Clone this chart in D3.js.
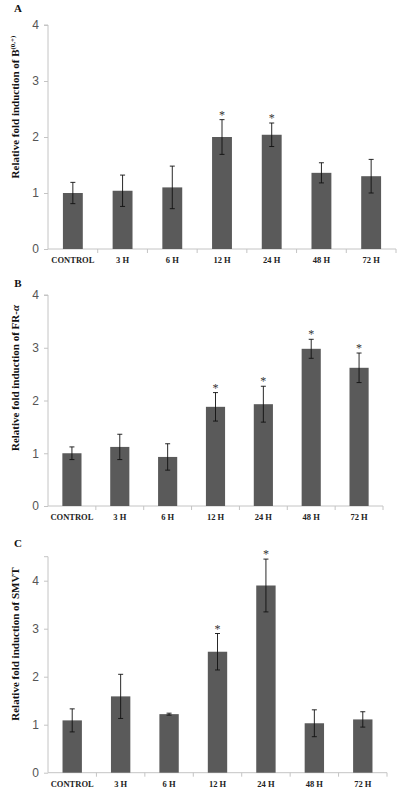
<!DOCTYPE html>
<html>
<head>
<meta charset="utf-8">
<script src="https://d3js.org/d3.v7.min.js"></script>
<style>
html,body{margin:0;padding:0;background:#fff;}
svg{display:block;}
</style>
</head>
<body>
<script>
const categories = ["CONTROL","3 H","6 H","12 H","24 H","48 H","72 H"];

const valuesA = [1.00,1.04,1.10,2.00,2.04,1.36,1.30];
const errA    = [0.19,0.28,0.38,0.31,0.21,0.18,0.30];
const sigA    = [0,0,0,1,1,0,0];

const valuesB = [1.00,1.12,0.93,1.88,1.93,2.98,2.62];
const errB    = [0.12,0.24,0.25,0.27,0.34,0.18,0.28];
const sigB    = [0,0,0,1,1,1,1];

const valuesC = [1.09,1.59,1.22,2.52,3.90,1.03,1.11];
const errC    = [0.24,0.46,0.02,0.38,0.55,0.28,0.16];
const sigC    = [0,0,0,1,1,0,0];

const yTicks = [0,1,2,3,4];

const svg = d3.select("body").append("svg").attr("width",400).attr("height",793);

const serif = "'Liberation Serif','Times New Roman',serif";
const sans = "'Liberation Sans',Arial,sans-serif";

function panel(cfg){
  const g = svg.append("g");
  const x = d3.scaleBand().domain(categories).range([cfg.x0,cfg.x1]).padding(0);
  const y = d3.scaleLinear().domain([0,cfg.ymax]).range([cfg.yb,cfg.yt]);
  const bw = x.bandwidth()*0.4;

  const ya = d3.axisLeft(y).tickValues(yTicks).tickSize(4).tickFormat(d3.format("d"));
  const yg = g.append("g").attr("transform",`translate(${cfg.x0},0)`).call(ya);
  yg.select(".domain").attr("stroke","#c4c4c4").attr("d",`M-4,${cfg.yt}H0V${cfg.yb}`);
  yg.selectAll(".tick line").attr("stroke","#c4c4c4");
  yg.selectAll(".tick text").attr("font-family",sans).attr("font-size",12).attr("fill","#555").attr("x",-9);

  g.append("line").attr("x1",cfg.x0).attr("x2",cfg.x1).attr("y1",cfg.yb).attr("y2",cfg.yb).attr("stroke","#c4c4c4");
  g.selectAll(".xt").data(categories).enter().append("line")
    .attr("x1",d=>x(d)+x.bandwidth()).attr("x2",d=>x(d)+x.bandwidth())
    .attr("y1",cfg.yb).attr("y2",cfg.yb+4).attr("stroke","#c4c4c4");
  g.selectAll(".xl").data(categories).enter().append("text")
    .attr("x",d=>x(d)+x.bandwidth()/2).attr("y",cfg.yb+14)
    .attr("text-anchor","middle").attr("font-family",serif).attr("font-weight","bold")
    .attr("font-size",8.5).attr("fill","#222").text(d=>d);

  const data = categories.map((c,i)=>({c,v:cfg.vals[i],e:cfg.errs[i],s:cfg.sig[i]}));
  g.selectAll(".bar").data(data).enter().append("rect")
    .attr("x",d=>x(d.c)+x.bandwidth()/2-bw/2).attr("width",bw)
    .attr("y",d=>y(d.v)).attr("height",d=>cfg.yb-y(d.v)).attr("fill","#5a5a5a");
  const eb = g.selectAll(".eb").data(data).enter().append("g")
    .attr("transform",d=>`translate(${x(d.c)+x.bandwidth()/2},0)`);
  eb.append("line").attr("y1",d=>y(d.v+d.e)).attr("y2",d=>y(d.v-d.e)).attr("stroke","#111").attr("stroke-width",0.9);
  eb.append("line").attr("x1",-2.5).attr("x2",2.5).attr("y1",d=>y(d.v+d.e)).attr("y2",d=>y(d.v+d.e)).attr("stroke","#111").attr("stroke-width",0.9);
  eb.append("line").attr("x1",-2.5).attr("x2",2.5).attr("y1",d=>y(d.v-d.e)).attr("y2",d=>y(d.v-d.e)).attr("stroke","#111").attr("stroke-width",0.9);
  g.selectAll(".ast").data(data.filter(d=>d.s)).enter().append("text")
    .attr("x",d=>x(d.c)+x.bandwidth()/2).attr("y",d=>y(d.v+d.e)-1)
    .attr("text-anchor","middle").attr("font-family",serif).attr("font-size",12).attr("fill","#333").text("*");

  g.append("text").attr("x",18).attr("y",cfg.letterY).attr("text-anchor","middle")
    .attr("font-family",serif).attr("font-weight","bold").attr("font-size",11).attr("fill","#111").text(cfg.letter);

  const t = g.append("text").attr("transform",`translate(19,${cfg.titleY}) rotate(-90)`)
    .attr("text-anchor","middle").attr("font-family",serif).attr("font-weight","bold")
    .attr("font-size",11).attr("fill","#111");
  cfg.title(t);
}

panel({x0:48,x1:396,yb:249,yt:25,ymax:4,vals:valuesA,errs:errA,sig:sigA,letter:"A",letterY:12,titleY:107,
  title:t=>{t.append("tspan").text("Relative fold induction of B");t.append("tspan").attr("font-size",7).attr("dy",-4).text("(0,+)");}});
panel({x0:48,x1:383,yb:506,yt:295,ymax:4,vals:valuesB,errs:errB,sig:sigB,letter:"B",letterY:287,titleY:378,
  title:t=>{t.append("tspan").text("Relative fold induction of FR-");t.append("tspan").attr("font-style","italic").text("α");}});
panel({x0:48,x1:387,yb:772.7,yt:556.7,ymax:4.5,vals:valuesC,errs:errC,sig:sigC,letter:"C",letterY:547,titleY:644,
  title:t=>{t.append("tspan").text("Relative fold induction of SMVT");}});
</script>
</body>
</html>
